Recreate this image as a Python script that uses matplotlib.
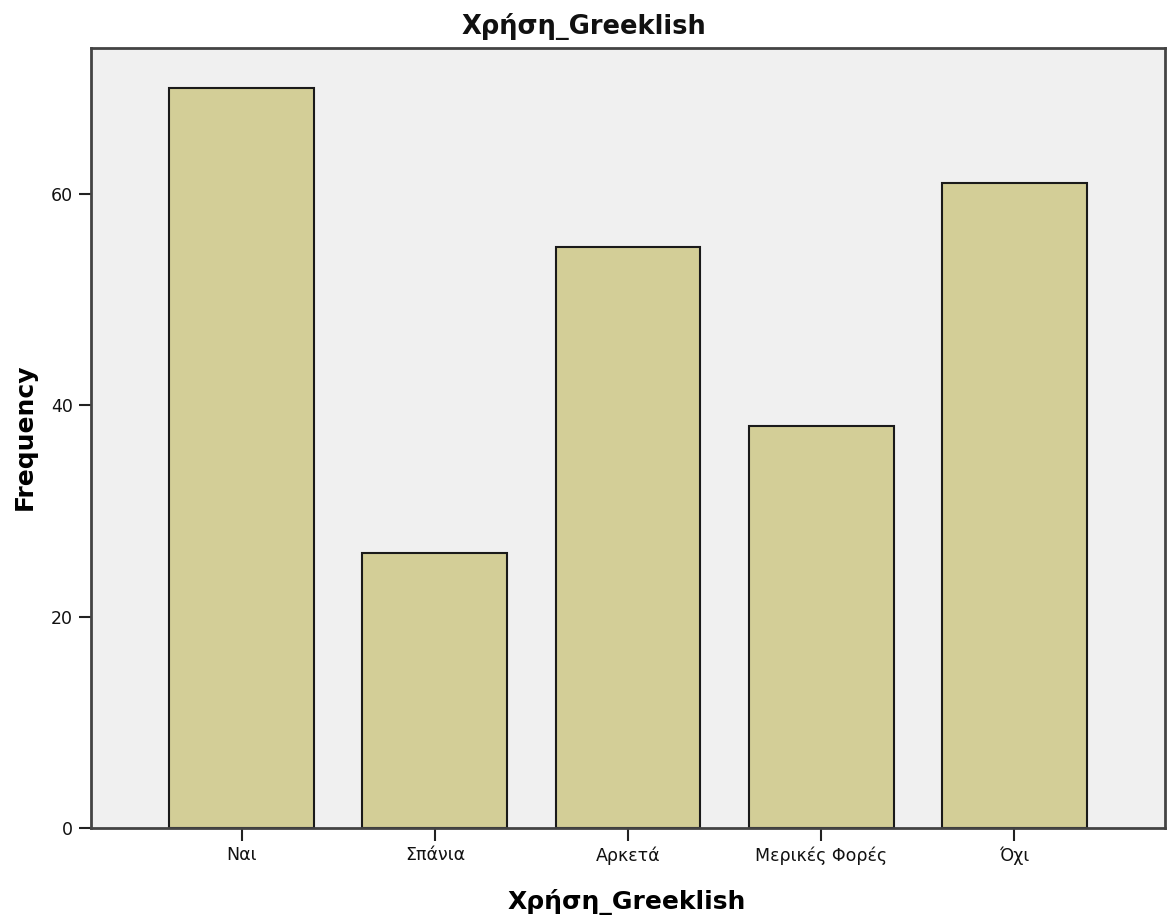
import matplotlib
matplotlib.use('Agg')
import matplotlib.pyplot as plt

# Δεδομένα
categories = ['Ναι', 'Σπάνια', 'Αρκετά', 'Μερικές Φορές', 'Όχι']
frequency = [70, 26, 55, 38, 61]
y_ticks = [0, 20, 40, 60]

plt.rcParams['font.family'] = ['DejaVu Sans']

W, H = 1168, 923
fig = plt.figure(figsize=(W / 100, H / 100), dpi=100)
ax = fig.add_axes([91 / W, 1 - 828 / H, (1165 - 91) / W, (828 - 48) / H])
ax.set_facecolor('#f0f0f0')

x = range(len(categories))
ax.bar(x, frequency, width=0.75, color='#d3ce97', edgecolor='#1a1a1a', linewidth=1.5, zorder=2)

ax.set_xlim(-0.78, len(categories) - 1 + 0.78)
ax.set_ylim(0, 73.8)
ax.set_xticks(list(x))
ax.set_xticklabels(categories)
ax.set_yticks(y_ticks)
ax.tick_params(axis='both', labelsize=12.5, length=9, width=1.5, color='#222222', pad=4,
               labelcolor='#111111')

for s in ax.spines.values():
    s.set_linewidth(2)
    s.set_color('#444444')

# Τίτλος και ετικέτες αξόνων
fig.text(0.5, 1 - 34 / H, 'Χρήση_Greeklish', fontsize=18.5, fontweight='bold',
         ha='center', va='baseline', color='#111111')
fig.text(627 / W, 1 - 909 / H, 'Χρήση_Greeklish', fontsize=18, fontweight='bold',
         ha='center', va='baseline')
fig.text(25 / W, 1 - 437 / H, 'Frequency', fontsize=18, fontweight='bold',
         ha='center', va='center', rotation=90)

fig.savefig('out.png', dpi=100)
plt.close(fig)
